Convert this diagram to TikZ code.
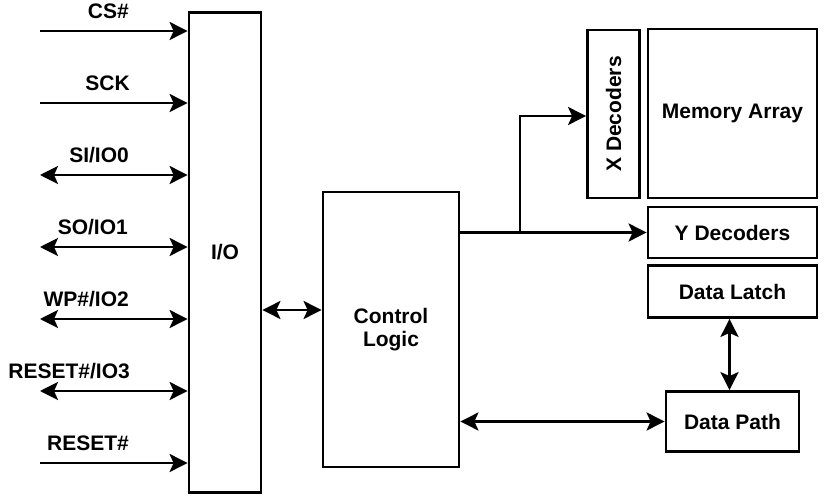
\documentclass[tikz,border=0pt]{standalone}
\usepackage{fontspec}
\setmainfont{Liberation Sans}
\usetikzlibrary{arrows.meta}
\begin{document}
\begin{tikzpicture}[x=1pt,y=-1pt,
  every node/.style={font=\fontsize{21}{23.5}\selectfont\bfseries},
  blk/.style={draw, line width=2.8pt, inner sep=0pt, align=center},
  wire/.style={line width=2.8pt},
  tip/.style={-{Stealth[length=18pt,width=18pt,inset=4pt]}},
  bitip/.style={{Stealth[length=18pt,width=18pt,inset=4pt]}-{Stealth[length=18pt,width=18pt,inset=4pt]}},
  lbl/.style={anchor=base east, inner sep=0pt}]
\useasboundingbox (0,0) rectangle (828,500);
% blocks
\node[blk, minimum width=72pt, minimum height=480pt] (io) at (225,252.5) {I/O};
\node[blk, minimum width=136pt, minimum height=275pt] (ctl) at (391,329.5) {Control\\Logic};
\node[blk, minimum width=52pt, minimum height=168pt] (xdec) at (613.5,114) {\rotatebox{90}{X Decoders}};
\node[blk, minimum width=169pt, minimum height=169pt] (mem) at (732.5,113.5) {Memory Array};
\node[blk, minimum width=169pt, minimum height=51pt] (ydec) at (732.5,232.5) {Y Decoders};
\node[blk, minimum width=169pt, minimum height=52pt] (dlatch) at (732.5,291.5) {Data Latch};
\node[blk, minimum width=133pt, minimum height=60pt] (dpath) at (732.5,421.5) {Data Path};
% input signals
\coordinate (s1) at (40,31);
\coordinate (s2) at (40,103);
\coordinate (s3) at (40,175);
\coordinate (s4) at (40,247);
\coordinate (s5) at (40,319);
\coordinate (s6) at (40,391);
\coordinate (s7) at (40,463);
\draw[wire,tip] (s1) -- (s1 -| io.west);
\draw[wire,tip] (s2) -- (s2 -| io.west);
\draw[wire,bitip] (s3) -- (s3 -| io.west);
\draw[wire,bitip] (s4) -- (s4 -| io.west);
\draw[wire,bitip] (s5) -- (s5 -| io.west);
\draw[wire,bitip] (s6) -- (s6 -| io.west);
\draw[wire,tip] (s7) -- (s7 -| io.west);
\node[lbl] (l1) at (129,18.5) {CS\#};
\node[lbl] (l2) at (130,90.5) {SCK};
\node[lbl] (l3) at (129,162.5) {SI/IO0};
\node[lbl] (l4) at (128,234.5) {SO/IO1};
\node[lbl] (l5) at (129,306.5) {WP\#/IO2};
\node[lbl] (l6) at (130,378.5) {RESET\#/IO3};
\node[lbl] (l7) at (129,450.5) {RESET\#};
% internal connections
\coordinate (c1) at (0,310);
\draw[wire,bitip] (io.east |- c1) -- (ctl.west |- c1);
\draw[wire,tip] (ctl.east |- ydec.west) -- (ydec.west);
\coordinate (br) at (520,232.5);
\draw[wire,tip] (br) |- ([yshift=-2pt]xdec.west);
\draw[wire,bitip] ([xshift=-3pt]dlatch.south) -- ([xshift=-3pt]dlatch.south |- dpath.north);
\draw[wire,bitip] (ctl.east |- dpath.west) -- (dpath.west);
\end{tikzpicture}
\end{document}
